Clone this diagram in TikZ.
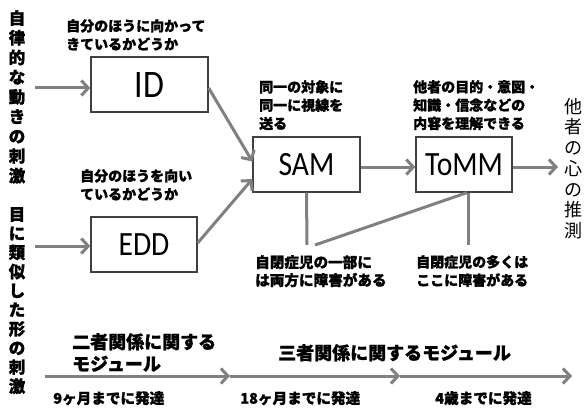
\documentclass[tikz,border=0pt]{standalone}
\usepackage{fontspec}
\newfontfamily\jp[BoldFeatures={FakeBold=1.2}]{Noto Sans CJK JP}
\newfontfamily\lat[FakeStretch=0.87]{Carlito}
\usetikzlibrary{arrows.meta}
\definecolor{arrowgray}{RGB}{128,128,128}
\definecolor{boxline}{RGB}{64,64,64}
\begin{document}
\begin{tikzpicture}[x=1pt,y=-1pt,
  box/.style={draw=boxline, line width=1.3pt, minimum width=#1, minimum height=55pt, inner sep=0pt, font=\lat\fontsize{34}{34}\selectfont},
  arr/.style={draw=arrowgray, line width=3pt, -{Straight Barb[length=7pt,width=15pt]}},
  conn/.style={draw=arrowgray, line width=3pt},
  lab/.style={anchor=north west, inner sep=0pt, align=left, font=\jp\bfseries\fontsize{14}{18.3}\selectfont},
  labb/.style={anchor=north west, inner sep=0pt, align=left, font=\jp\bfseries\fontsize{14.6}{18}\selectfont},
  big/.style={anchor=north west, inner sep=0pt, align=left, font=\jp\bfseries\fontsize{18}{22}\selectfont},
  vlab/.style={anchor=north, inner sep=0pt, align=center, font=\jp\bfseries\fontsize{16.5}{#1}\selectfont},
  vreg/.style={anchor=north, inner sep=0pt, align=center, font=\jp\fontsize{18}{20.7}\selectfont}]
\useasboundingbox (0,0) rectangle (585,414);

% boxes
\node[box=117pt, font=\lat\fontsize{39}{39}\selectfont] (ID) at (149.5,84.5) {ID};
\node[box=106pt] (EDD) at (144,244.5) {EDD};
\node[box=107pt] (SAM) at (306.5,164.5) {SAM};
\node[box=96pt] (ToMM) at (464,164.5) {ToMM};

% left vertical texts
\node[vlab=19.7] (v1) at (17,10) {自\\律\\的\\な\\動\\き\\の\\刺\\激};
\node[vlab=19.1] (v2) at (17,207) {目\\に\\類\\似\\し\\た\\形\\の\\刺\\激};
% right vertical text
\node[vreg] (v3) at (573,98) {他\\者\\の\\心\\の\\推\\測};

% labels
\node[lab] (l1) at (66,19) {自分のほうに向かって\\きているかどうか};
\node[lab] (l2) at (80,169) {自分のほうを向い\\ているかどうか};
\node[lab] (l3) at (259,80) {同一の対象に\\同一に視線を\\送る};
\node[lab] (l4) at (413,80) {他者の目的・意図・\\知識・信念などの\\内容を理解できる};
\node[labb] (l5) at (255,255) {自閉症児の一部に\\は両方に障害がある};
\node[lab] (l6) at (416,255) {自閉症児の多くは\\ここに障害がある};
\node[big] (l7) at (72,333) {二者関係に関する\\モジュール};
\node[big] (l8) at (278,344) {三者関係に関するモジュール};
\node[labb] (l9) at (53,391) {9ヶ月までに発達};
\node[labb] (l10) at (240,391) {18ヶ月までに発達};
\node[labb] (l11) at (435,391) {4歳までに発達};

% coordinates
\coordinate (idin) at (35,88);
\coordinate (eddin) at (35,246);
\coordinate (out) at (558,167);
\coordinate (samlow) at (307,245);
\coordinate (diaglow) at (315,245);
\coordinate (tomlow) at (468,245);
\coordinate (b0) at (45,376);
\coordinate (b1) at (230,376);
\coordinate (b2) at (400,376);
\coordinate (b3) at (572,376);

% arrows
\draw[arr] (idin) -- (idin -| ID.west);
\draw[arr] (eddin) -- (eddin -| EDD.west);
\draw[arr] ([yshift=-3.5pt]ID.east) -- ([yshift=3pt]SAM.west);
\draw[arr] ([yshift=1.5pt]EDD.east) -- ([yshift=-14.5pt]SAM.west);
\draw[arr] ([yshift=-2.5pt]SAM.east) -- ([yshift=-2.5pt]ToMM.west);
\draw[arr] ([yshift=-2.5pt]ToMM.east) -- (out);
\draw[conn] (SAM.south) -- (samlow);
\draw[conn] (diaglow) -- ([xshift=3pt]ToMM.south);
\draw[conn] ([xshift=4pt]ToMM.south) -- (tomlow);
\draw[arr] (b0) -- (b1);
\draw[arr] (b1) -- (b2);
\draw[arr] (b2) -- (b3);
\end{tikzpicture}
\end{document}
